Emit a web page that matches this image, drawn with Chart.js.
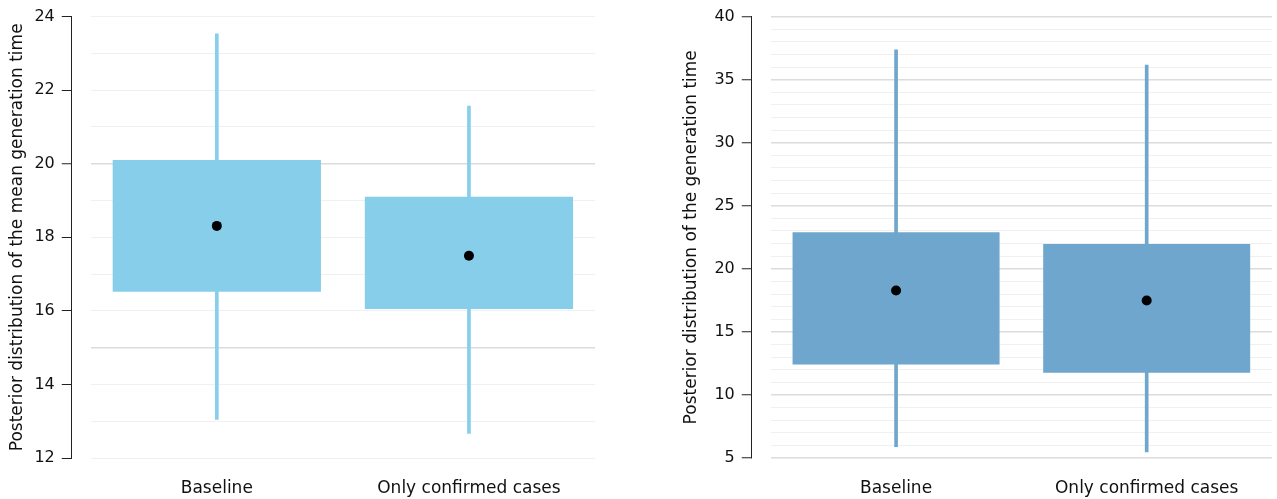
<!DOCTYPE html>
<html>
<head>
<meta charset="utf-8">
<script src="https://cdn.jsdelivr.net/npm/chart.js@4"></script>
<style>
  body { margin: 0; background: #fff; }
  .panel { position: absolute; top: 0; height: 499px; }
</style>
</head>
<body>
<div class="panel" style="left:0;width:600px"><canvas id="chartMean"></canvas></div>
<div class="panel" style="left:675px;width:602px"><canvas id="chartGen"></canvas></div>
<script>
  let categorias = ['Baseline', 'Only confirmed cases'];

  // left panel: mean generation time
  let meanBoxLow = [16.52, 16.05];
  let meanBoxHigh = [20.1, 19.1];
  let meanWhiskLow = [13.05, 12.67];
  let meanWhiskHigh = [23.53, 21.57];
  let meanPoint = [18.31, 17.5];
  let meanTicks = [12, 24]; // min, max

  // right panel: generation time
  let genBoxLow = [12.42, 11.76];
  let genBoxHigh = [22.9, 21.97];
  let genWhiskLow = [5.9, 5.48];
  let genWhiskHigh = [37.36, 36.15];
  let genPoint = [18.28, 17.49];
  let genTicks = [5, 40];

  const fuente = "'DejaVu Sans', sans-serif";

  function crearGrafica(id, opts) {
    let datos = {
      labels: categorias,
      datasets: [
        {
          type: 'line',
          data: opts.point,
          showLine: false,
          pointRadius: 5,
          pointHoverRadius: 5,
          pointBackgroundColor: '#000',
          pointBorderWidth: 0,
          order: 0,
        },
        {
          data: opts.boxLow.map((v, i) => [v, opts.boxHigh[i]]),
          backgroundColor: opts.color,
          borderWidth: 0,
          barPercentage: 0.826,
          categoryPercentage: 1,
          grouped: false,
          order: 1,
        },
        {
          data: opts.whiskLow.map((v, i) => [v, opts.whiskHigh[i]]),
          backgroundColor: opts.color,
          borderWidth: 0,
          barThickness: 3,
          grouped: false,
          order: 2,
        }
      ]
    };

    let opciones = {
      responsive: true,
      maintainAspectRatio: false,
      animation: false,
      layout: { padding: { left: opts.padLeft, right: opts.padRight, top: 15, bottom: 0 } },
      scales: {
        x: {
          grid: { display: false, drawTicks: false },
          border: { display: false },
          afterFit: s => { s.height = 41; },
          ticks: {
            color: '#111',
            padding: 20,
            font: { family: fuente, size: 17 },
          },
        },
        y: {
          type: 'linear',
          position: 'left',
          weight: 1,
          min: opts.ticks[0],
          max: opts.ticks[1],
          border: { display: true, color: '#222', width: 1 },
          grid: {
            color: c => (c.tick && c.tick.value % 5 === 0) ? '#dcdcdc' : '#f0f0f0',
            lineWidth: c => (c.tick && c.tick.value % 5 === 0) ? 1.5 : 1,
            tickColor: c => (c.tick && c.tick.value % opts.labelStep === 0) ? '#222' : 'rgba(0,0,0,0)',
            tickWidth: 1,
            tickLength: 10,
          },
          ticks: {
            stepSize: 1,
            autoSkip: false,
            color: '#111',
            padding: 7,
            font: { family: fuente, size: 16 },
            callback: v => (v % opts.labelStep === 0) ? v : '',
          },
          title: {
            display: true,
            text: opts.title,
            color: '#111',
            font: { family: fuente, size: 17 },
            padding: { top: 4, bottom: opts.titleGap },
          },
        },
        gap: {
          type: 'linear',
          position: 'left',
          weight: 0,
          grid: { display: false, drawTicks: false },
          border: { display: false },
          ticks: { display: false },
          afterFit: s => { s.width = 19; },
        }
      },
      plugins: {
        legend: { display: false },
        title: { display: false },
        tooltip: { enabled: false },
      },
    };

    let ctx = document.getElementById(id).getContext('2d');
    return new Chart(ctx, { type: 'bar', data: datos, options: opciones });
  }

  crearGrafica('chartMean', {
    boxLow: meanBoxLow, boxHigh: meanBoxHigh,
    whiskLow: meanWhiskLow, whiskHigh: meanWhiskHigh,
    point: meanPoint, ticks: meanTicks, labelStep: 2,
    color: '#87ceeb',
    title: 'Posterior distribution of the mean generation time',
    padLeft: 3, padRight: 4, titleGap: 0,
  });

  crearGrafica('chartGen', {
    boxLow: genBoxLow, boxHigh: genBoxHigh,
    whiskLow: genWhiskLow, whiskHigh: genWhiskHigh,
    point: genPoint, ticks: genTicks, labelStep: 5,
    color: '#6fa6cd',
    title: 'Posterior distribution of the generation time',
    padLeft: 2, padRight: 0, titleGap: 6,
  });
</script>
</body>
</html>
